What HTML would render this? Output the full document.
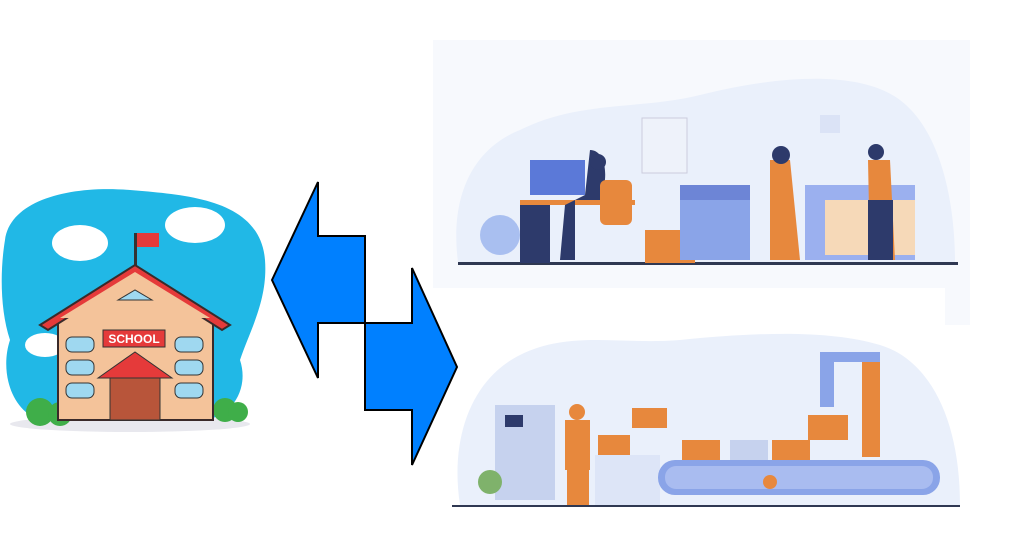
<!DOCTYPE html>
<html><head><style>
html,body{margin:0;padding:0;background:#fff;width:1024px;height:543px;overflow:hidden}
</style></head><body>
<svg width="1024" height="543" viewBox="0 0 1024 543" xmlns="http://www.w3.org/2000/svg">
<!-- top panel -->
<rect x="433" y="40" width="537" height="248" fill="#f7f9fd"/>
<rect x="945" y="288" width="25" height="37" fill="#f7f9fd"/>
<path d="M458 262 C450 200 470 150 520 130 C580 100 640 110 700 95 C780 75 860 70 900 100 C940 130 955 200 955 262 Z" fill="#eaf0fb"/>
<rect x="458" y="262" width="500" height="3" fill="#2f3852"/>
<!-- desk scene -->
<rect x="530" y="160" width="55" height="35" fill="#5b79d8"/>
<rect x="520" y="200" width="115" height="5" fill="#e7883d"/>
<rect x="520" y="205" width="30" height="58" fill="#2d3a6b"/>
<path d="M590 150 C605 150 610 175 600 200 L575 200 L575 260 L560 260 L565 205 L585 195 Z" fill="#2d3a6b"/>
<rect x="600" y="180" width="32" height="45" rx="6" fill="#e7883d"/>
<circle cx="598" cy="162" r="8" fill="#2d3a6b"/>
<rect x="645" y="230" width="50" height="33" fill="#e7883d"/>
<circle cx="500" cy="235" r="20" fill="#a9bff0"/>
<rect x="642" y="118" width="45" height="55" fill="#eef2fa" stroke="#ccd"/>
<rect x="680" y="185" width="70" height="75" fill="#8aa4e8"/>
<rect x="680" y="185" width="70" height="15" fill="#6d85d6"/>
<path d="M770 160 L790 160 L800 260 L770 260 Z" fill="#e7883d"/>
<circle cx="781" cy="155" r="9" fill="#2d3a6b"/>
<rect x="805" y="185" width="110" height="75" fill="#9bb0ef"/>
<rect x="825" y="200" width="90" height="55" fill="#f6d9b8"/>
<path d="M868 160 L890 160 L895 260 L870 260 Z" fill="#e7883d"/>
<rect x="868" y="200" width="25" height="60" fill="#2d3a6b"/>
<circle cx="876" cy="152" r="8" fill="#2d3a6b"/>
<rect x="820" y="115" width="20" height="18" fill="#dbe3f6"/>
<!-- bottom panel -->
<path d="M460 505 C450 440 470 380 520 355 C570 330 620 345 680 340 C760 332 830 330 880 345 C930 360 960 420 960 505 Z" fill="#eaf0fb"/>
<rect x="452" y="505" width="508" height="2" fill="#2f3852"/>
<rect x="495" y="405" width="60" height="95" fill="#c6d2ee"/>
<rect x="505" y="415" width="18" height="12" fill="#2d3a6b"/>
<rect x="565" y="420" width="25" height="50" fill="#e7883d"/>
<rect x="567" y="470" width="22" height="35" fill="#e7883d"/>
<circle cx="577" cy="412" r="8" fill="#e7883d"/>
<rect x="598" y="435" width="32" height="20" fill="#e7883d"/>
<rect x="632" y="408" width="35" height="20" fill="#e7883d"/>
<rect x="595" y="455" width="65" height="50" fill="#dde5f7"/>
<rect x="658" y="460" width="282" height="35" rx="17" fill="#8aa4e8"/>
<rect x="665" y="466" width="268" height="23" rx="11" fill="#a9bcf0"/>
<rect x="682" y="440" width="38" height="20" fill="#e7883d"/>
<rect x="730" y="440" width="38" height="20" fill="#c6d2ee"/>
<rect x="772" y="440" width="38" height="20" fill="#e7883d"/>
<rect x="808" y="415" width="40" height="25" fill="#e7883d"/>
<rect x="820" y="352" width="14" height="55" fill="#8aa4e8"/>
<rect x="862" y="352" width="18" height="105" fill="#e7883d"/>
<rect x="820" y="352" width="60" height="10" fill="#8aa4e8"/>
<circle cx="770" cy="482" r="7" fill="#e7883d"/>
<circle cx="490" cy="482" r="12" fill="#7fb26b"/>
<!-- school -->
<path d="M5 240 C10 200 70 185 130 190 C190 195 260 200 265 260 C268 300 250 330 240 360 C250 390 230 420 200 420 L40 420 C10 410 0 370 10 340 C0 310 0 270 5 240 Z" fill="#21b8e6"/>
<ellipse cx="80" cy="243" rx="28" ry="18" fill="#fff"/>
<ellipse cx="195" cy="225" rx="30" ry="18" fill="#fff"/>
<ellipse cx="45" cy="345" rx="20" ry="12" fill="#fff"/>
<ellipse cx="130" cy="424" rx="120" ry="8" fill="#e8e8ee"/>
<circle cx="40" cy="412" r="14" fill="#3fae49"/><circle cx="60" cy="414" r="12" fill="#3fae49"/>
<circle cx="225" cy="410" r="12" fill="#3fae49"/><circle cx="238" cy="412" r="10" fill="#3fae49"/>
<rect x="134" y="233" width="3" height="35" fill="#333"/>
<rect x="137" y="233" width="22" height="14" fill="#e53a3a"/>
<rect x="58" y="315" width="155" height="105" fill="#f4c39a" stroke="#3a2a2a" stroke-width="2"/>
<path d="M40 325 L135 265 L230 325 L222 330 L135 275 L48 330 Z" fill="#e53a3a" stroke="#3a2a2a" stroke-width="2"/>
<path d="M60 318 L135 272 L210 318 Z" fill="#f4c39a"/>
<path d="M118 300 L135 290 L152 300 Z" fill="#9fd8f0" stroke="#333"/>
<rect x="103" y="330" width="62" height="17" fill="#e53a3a" stroke="#333"/>
<text x="134" y="343" font-family="Liberation Sans" font-weight="bold" font-size="12" fill="#fff" text-anchor="middle">SCHOOL</text>
<path d="M98 378 L135 352 L172 378 Z" fill="#e53a3a" stroke="#333"/>
<rect x="110" y="378" width="50" height="42" fill="#b8553a" stroke="#333"/>
<g fill="#9fd8f0" stroke="#333"><rect x="66" y="337" width="28" height="15" rx="6"/><rect x="66" y="360" width="28" height="15" rx="6"/><rect x="66" y="383" width="28" height="15" rx="6"/>
<rect x="175" y="337" width="28" height="15" rx="6"/><rect x="175" y="360" width="28" height="15" rx="6"/><rect x="175" y="383" width="28" height="15" rx="6"/></g>
<!-- arrows -->
<g fill="#0080ff" stroke="#000" stroke-width="2" stroke-linejoin="miter">
<path d="M272 280 L318 182 L318 236 L365 236 L365 323 L318 323 L318 378 Z"/>
<path d="M365 323 L412 323 L412 268 L457 367 L412 465 L412 410 L365 410 Z"/>
</g>
</svg>
</body></html>
